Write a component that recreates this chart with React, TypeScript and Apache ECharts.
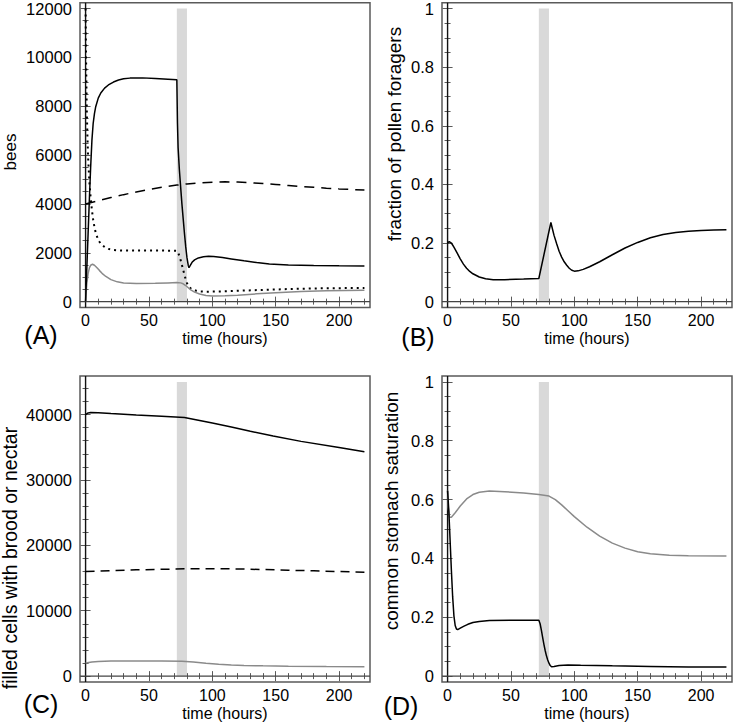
import React, { useEffect, useRef } from "react";
import * as echarts from "echarts";

// ---------- data ----------
const aSolid: number[][] = [[0,0],[1,1400],[2,2800],[3,4200],[4,5500],[5,6600],[6,7300],[7,7700],[8,7980],[10,8330],[12,8540],[15,8740],[18,8870],[22,8990],[26,9070],[30,9120],[35,9150],[45,9160],[55,9130],[65,9100],[72,9080],[72.5,7300],[73,6300],[74,5400],[75,4700],[76,4000],[77,3400],[78,2800],[79,2250],[80,1800],[81,1480],[81.6,1390],[82.5,1470],[84,1610],[86,1710],[89,1790],[93,1840],[97,1855],[101,1850],[108,1805],[115,1750],[125,1670],[135,1600],[145,1545],[160,1500],[180,1475],[200,1465],[220,1460]];
const aDotted: number[][] = [[0,12000],[0.3,10300],[0.7,8700],[1,7700],[1.5,6700],[2,5900],[3,4900],[4,4250],[5,3750],[6,3350],[7,3050],[8,2820],[10,2520],[12,2370],[15,2240],[18,2160],[22,2115],[28,2095],[40,2090],[60,2090],[72,2080],[73,2010],[74,1870],[75,1700],[76,1500],[77,1300],[78,1100],[79,910],[80,760],[81,650],[82,580],[84,505],[87,450],[90,420],[95,405],[100,410],[110,425],[120,445],[140,480],[160,515],[180,540],[200,552],[220,560]];
const aDashed: number[][] = [[0,4000],[10,4130],[20,4260],[30,4380],[40,4490],[50,4590],[60,4680],[72,4770],[80,4820],[90,4860],[100,4890],[110,4905],[120,4895],[130,4870],[140,4835],[150,4795],[160,4755],[170,4715],[180,4680],[190,4645],[200,4615],[210,4590],[220,4570]];
const aGray: number[][] = [[0,0],[0.5,400],[1,750],[2,1150],[3,1380],[4,1490],[5.5,1530],[7,1490],[9,1390],[11,1270],[13,1160],[16,1030],[20,900],[25,810],[30,760],[40,740],[55,748],[65,768],[72,780],[75,768],[77,730],[79,660],[81,570],[83,480],[86,390],[90,310],[95,255],[100,232],[110,238],[120,265],[135,318],[150,368],[170,418],[190,448],[205,460],[220,468]];

const bSolid: number[][] = [[0,0.2],[1.3,0.205],[3,0.2],[5,0.186],[7.5,0.166],[10,0.146],[12.5,0.128],[15,0.114],[17.5,0.103],[20,0.095],[25,0.084],[30,0.078],[36,0.075],[45,0.075],[60,0.077],[72,0.079],[81.5,0.27],[82.5,0.252],[84,0.226],[86,0.198],[88,0.172],[90,0.152],[92,0.136],[94,0.124],[96,0.114],[98,0.107],[100,0.104],[103,0.105],[107,0.11],[112,0.119],[120,0.136],[130,0.16],[140,0.183],[150,0.202],[160,0.218],[170,0.229],[180,0.236],[190,0.24],[200,0.243],[210,0.244],[220,0.245]];

const cSolid: number[][] = [[0,40000],[2,40250],[4,40300],[10,40270],[20,40160],[40,39950],[60,39750],[78,39560],[90,39100],[100,38700],[115,38100],[130,37450],[148,36720],[170,35900],[200,34950],[220,34300]];
const cDashed: number[][] = [[0,16000],[20,16130],[40,16250],[60,16340],[80,16410],[100,16430],[120,16390],[140,16300],[160,16200],[180,16100],[200,16000],[220,15900]];
const cGray: number[][] = [[0,2000],[5,2150],[10,2250],[20,2320],[40,2330],[60,2300],[76,2260],[85,2150],[95,1980],[105,1830],[115,1710],[125,1630],[140,1570],[160,1520],[190,1470],[220,1450]];

const dSolid: number[][] = [[0,0.63],[1,0.56],[2,0.46],[3,0.36],[4,0.27],[5,0.205],[6,0.172],[7,0.16],[8,0.158],[10,0.163],[13,0.17],[16,0.176],[20,0.182],[25,0.186],[33,0.189],[50,0.19],[72,0.19],[73,0.178],[74,0.156],[75,0.132],[76,0.108],[77,0.087],[78,0.069],[79,0.055],[80,0.044],[81,0.036],[82,0.032],[84,0.033],[88,0.036],[95,0.038],[105,0.037],[130,0.035],[160,0.033],[190,0.031],[220,0.031]];
const dGray: number[][] = [[0,0.63],[0.5,0.575],[1.5,0.54],[3,0.54],[6,0.555],[10,0.578],[15,0.602],[20,0.617],[25,0.625],[33,0.629],[45,0.627],[60,0.622],[72,0.617],[80,0.612],[85,0.6],[90,0.582],[95,0.562],[100,0.542],[110,0.506],[120,0.476],[130,0.452],[140,0.435],[150,0.423],[160,0.416],[175,0.411],[190,0.409],[220,0.408]];

// band (perturbation period)
const bandStart = 72;
const bandEnd = 80;

// ticks
const xMajor = [0, 50, 100, 150, 200];
const xMinor = [10, 20, 30, 40, 60, 70, 80, 90, 110, 120, 130, 140, 160, 170, 180, 190, 210, 220];
const aMajor = [0, 2000, 4000, 6000, 8000, 10000, 12000];
const aMinor = [500, 1000, 1500, 2500, 3000, 3500, 4500, 5000, 5500, 6500, 7000, 7500, 8500, 9000, 9500, 10500, 11000, 11500];
const fracMajor = [0, 0.2, 0.4, 0.6, 0.8, 1];
const fracMinor = [0.05, 0.1, 0.15, 0.25, 0.3, 0.35, 0.45, 0.5, 0.55, 0.65, 0.7, 0.75, 0.85, 0.9, 0.95];
const cMajor = [0, 10000, 20000, 30000, 40000];
const cMinor = [2000, 4000, 6000, 8000, 12000, 14000, 16000, 18000, 22000, 24000, 26000, 28000, 32000, 34000, 36000, 38000, 42000, 44000];

const panelLabels = ["(A)", "(B)", "(C)", "(D)"];
const yTitles = ["bees", "fraction of pollen foragers", "filled cells with brood or nectar", "common stomach saturation"];
const xTitle = "time (hours)";

const FONT = "Liberation Sans, Arial, Helvetica, sans-serif";
const FRAME = "#5a5a5a";
const X_MIN = -4.4;
const X_MAX = 224.4;

export default function App() {
  const ref = useRef<HTMLDivElement>(null);
  useEffect(() => {
    if (!ref.current) return;
    const chart = echarts.init(ref.current, null, { renderer: "svg" });

    const grids = [
      { left: 80, top: 1.5, width: 290, height: 306 },
      { left: 442, top: 1.5, width: 290, height: 306 },
      { left: 80, top: 376, width: 290, height: 306 },
      { left: 442, top: 376, width: 290, height: 306 },
    ].map((g) => ({ ...g, show: true, borderColor: FRAME, borderWidth: 1.5, backgroundColor: "transparent" }));

    const yRanges = [
      { min: -240, max: 12240, major: aMajor, minor: aMinor, top: 12000 },
      { min: -0.02, max: 1.02, major: fracMajor, minor: fracMinor, top: 1 },
      { min: -900, max: 45900, major: cMajor, minor: cMinor, top: 45000 },
      { min: -0.02, max: 1.02, major: fracMajor, minor: fracMinor, top: 1 },
    ];

    const xAxes: any[] = [];
    const yAxes: any[] = [];
    for (let g = 0; g < 4; g++) {
      const base = { gridIndex: g, type: "value", min: X_MIN, max: X_MAX, axisLine: { show: false }, splitLine: { show: false } };
      xAxes.push({
        ...base, position: "bottom",
        axisTick: { show: true, inside: true, length: 5, lineStyle: { color: FRAME, width: 1 }, customValues: xMajor },
        axisLabel: { show: true, customValues: xMajor, fontSize: 16, color: "#000", margin: 5, fontFamily: FONT },
        name: xTitle, nameLocation: "middle", nameGap: 23,
        nameTextStyle: { fontSize: 16, color: "#000", fontFamily: FONT },
      });
      xAxes.push({ ...base, position: "bottom", axisTick: { show: true, inside: true, length: 3, lineStyle: { color: FRAME, width: 1 }, customValues: xMinor }, axisLabel: { show: false } });
      xAxes.push({ ...base, position: "top", axisTick: { show: true, inside: true, length: 5, lineStyle: { color: FRAME, width: 1 }, customValues: xMajor }, axisLabel: { show: false } });
      xAxes.push({ ...base, position: "top", axisTick: { show: true, inside: true, length: 3, lineStyle: { color: FRAME, width: 1 }, customValues: xMinor }, axisLabel: { show: false } });

      const r = yRanges[g];
      const ybase = { gridIndex: g, type: "value", min: r.min, max: r.max, axisLine: { show: false }, splitLine: { show: false } };
      yAxes.push({
        ...ybase, position: "left",
        axisTick: { show: true, inside: true, length: 5, lineStyle: { color: FRAME, width: 1 }, customValues: r.major },
        axisLabel: { show: true, customValues: r.major, fontSize: 16.5, color: "#000", margin: 8, fontFamily: FONT, formatter: (v: number) => String(v) },
      });
      yAxes.push({ ...ybase, position: "left", axisTick: { show: true, inside: true, length: 3, lineStyle: { color: FRAME, width: 1 }, customValues: r.minor }, axisLabel: { show: false } });
      yAxes.push({ ...ybase, position: "right", axisTick: { show: true, inside: true, length: 5, lineStyle: { color: FRAME, width: 1 }, customValues: r.major }, axisLabel: { show: false } });
      yAxes.push({ ...ybase, position: "right", axisTick: { show: true, inside: true, length: 3, lineStyle: { color: FRAME, width: 1 }, customValues: r.minor }, axisLabel: { show: false } });
    }

    const series: any[] = [];
    const line = (g: number, data: number[][], color: string, type: any, width = 1.5, z = 3) => ({
      type: "line", xAxisIndex: 4 * g, yAxisIndex: 4 * g, data, showSymbol: false, symbol: "none",
      lineStyle: { color, width, type, cap: "butt" }, z, silent: true,
    });
    for (let g = 0; g < 4; g++) {
      const r = yRanges[g];
      series.push({
        type: "line", xAxisIndex: 4 * g, yAxisIndex: 4 * g, data: [], z: 1, silent: true, symbol: "none",
        markArea: { silent: true, itemStyle: { color: "#d9d9d9" }, data: [[{ xAxis: bandStart, yAxis: 0 }, { xAxis: bandEnd, yAxis: r.top }]] },
      });
      // axes through the origin (span the whole plot range)
      series.push(line(g, [[0, r.min], [0, r.max]], "#111", "solid", 1.4, 2));
      series.push(line(g, [[X_MIN, 0], [X_MAX, 0]], "#444", "solid", 1.4, 2));
    }
    series.push(line(0, aDashed, "#000", [10, 7]));
    series.push(line(0, aDotted, "#000", [2, 4], 2));
    series.push(line(0, aGray, "#8a8a8a", "solid"));
    series.push(line(0, aSolid, "#000", "solid"));
    series.push(line(1, bSolid, "#000", "solid"));
    series.push(line(2, cDashed, "#000", [9, 6]));
    series.push(line(2, cGray, "#8a8a8a", "solid"));
    series.push(line(2, cSolid, "#000", "solid"));
    series.push(line(3, dGray, "#8a8a8a", "solid"));
    series.push(line(3, dSolid, "#000", "solid"));

    const labelPos = [[41, 335], [418, 337], [41, 704], [401, 706]];
    const graphic: any[] = panelLabels.map((t, i) => ({
      type: "text", x: labelPos[i][0], y: labelPos[i][1],
      style: { text: t, fontSize: 25, fill: "#000", fontFamily: FONT, textAlign: "center", textVerticalAlign: "middle" },
    }));
    const titlePos = [[10, 152, 17], [394, 134, 19], [10, 558, 19.5], [391, 511, 19]];
    yTitles.forEach((t, i) => {
      graphic.push({
        type: "text", x: titlePos[i][0], y: titlePos[i][1], rotation: Math.PI / 2,
        style: { text: t, fontSize: titlePos[i][2], fill: "#000", fontFamily: FONT, textAlign: "center", textVerticalAlign: "middle" },
      });
    });

    chart.setOption({
      animation: false,
      backgroundColor: "#fff",
      grid: grids,
      xAxis: xAxes,
      yAxis: yAxes,
      series,
      graphic,
    });
    return () => chart.dispose();
  }, []);
  return <div ref={ref} style={{ position: "fixed", left: 0, top: 0, width: 733, height: 723 }} />;
}
